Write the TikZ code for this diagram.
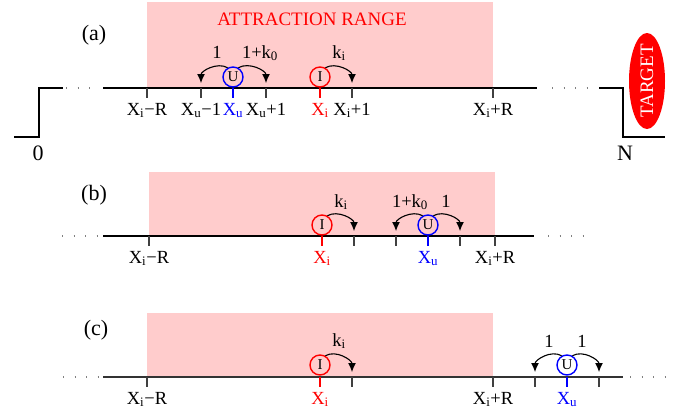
\documentclass[tikz,border=0pt]{standalone}
\usepackage{fontspec}
\setmainfont{Liberation Serif}
\usetikzlibrary{arrows.meta,shapes.geometric}
\definecolor{pinkbg}{RGB}{255,204,204}
\definecolor{myred}{RGB}{255,0,0}
\definecolor{myblue}{RGB}{0,0,255}
\begin{document}
\begin{tikzpicture}[x=1pt,y=-1pt,
  axis/.style={line width=1.3pt, black},
  dots/.style={line width=1.2pt, gray, dash pattern=on 1pt off 10.5pt},
  tickmk/.style={line width=1.1pt, black!75},
  ctick/.style={line width=2.6pt},
  lbl/.style={font=\fontsize{18.5}{18.5}\selectfont, anchor=base, inner sep=0pt},
  big/.style={font=\fontsize{22}{22}\selectfont, anchor=base, inner sep=0pt},
  site/.style={circle, draw, line width=1.4pt, minimum size=20pt, inner sep=0pt, font=\fontsize{15}{15}\selectfont},
  hop/.style={-{Latex[length=9pt,width=8pt]}, line width=1.1pt},
  rng/.style={fill=pinkbg, draw=none}]
\useasboundingbox (0,0) rectangle (680,415);

% ---------------- (a)
\fill[rng] (147,2) rectangle (493,88);
\node[lbl, text=myred, font=\fontsize{19}{19}\selectfont] (title) at (312,25) {ATTRACTION RANGE};
\node[big] (pa) at (94,40) {(a)};
\draw[axis] (14,137) -- (39,137) -- (39,88) -- (63,88);
\draw[dots] (66,88) -- (100,88);
\draw[axis] (103,88) -- (537,88);
\draw[dots] (552,88) -- (590,88);
\draw[axis] (599,88) -- (623,88) -- (623,137) -- (665,137);
\draw[tickmk] (147,88) -- ++(0,10);
\draw[tickmk] (201,88) -- ++(0,10);
\draw[ctick, myblue] (233,88) -- ++(0,10);
\draw[tickmk] (266,88) -- ++(0,10);
\draw[ctick, myred] (320,88) -- ++(0,10);
\draw[tickmk] (352,88) -- ++(0,10);
\draw[tickmk] (493,88) -- ++(0,10);
\node[site, draw=myblue] (Ua) at (233,77) {U};
\node[site, draw=myred] (Ia) at (320,77) {I};
\coordinate (a1) at (201,83);
\coordinate (a2) at (266,83);
\coordinate (a3) at (352,83);
\draw[hop] (Ua.120) to[out=150,in=90] (a1);
\draw[hop] (Ua.60) to[out=30,in=90] (a2);
\draw[hop] (Ia.60) to[out=30,in=90] (a3);
\node[lbl] (la1) at (217,58) {1};
\node[lbl] (la2) at (260,58) {1+k\textsubscript{0}};
\node[lbl] (la3) at (339,58) {k\textsubscript{i}};
\node[lbl] (xa1) at (147,115) {X\textsubscript{i}−R};
\node[lbl] (xa2) at (201,115) {X\textsubscript{u}−1};
\node[lbl, text=myblue] (xa3) at (233,115) {X\textsubscript{u}};
\node[lbl] (xa4) at (266,115) {X\textsubscript{u}+1};
\node[lbl, text=myred] (xa5) at (320,115) {X\textsubscript{i}};
\node[lbl] (xa6) at (352,115) {X\textsubscript{i}+1};
\node[lbl] (xa7) at (493,115) {X\textsubscript{i}+R};
\node[big] (zero) at (38,160) {0};
\node[big] (enn) at (625,160) {N};
\node[ellipse, fill=myred, rotate=90, minimum width=96pt, minimum height=36pt, inner sep=-3pt, text=white, font=\fontsize{19}{19}\selectfont] (tgt) at (647,81) {TARGET};

% ---------------- (b)
\fill[rng] (149,172) rectangle (495,236);
\node[big] (pb) at (94,200) {(b)};
\draw[dots] (62,236) -- (100,236);
\draw[axis] (103,236) -- (534,236);
\draw[dots] (548,236) -- (584,236);
\draw[tickmk] (149,236) -- ++(0,10);
\draw[ctick, myred] (322,236) -- ++(0,10);
\draw[tickmk] (354,236) -- ++(0,10);
\draw[tickmk] (396,236) -- ++(0,10);
\draw[ctick, myblue] (428,236) -- ++(0,10);
\draw[tickmk] (460,236) -- ++(0,10);
\draw[tickmk] (495,236) -- ++(0,10);
\node[site, draw=myred] (Ib) at (322,225) {I};
\node[site, draw=myblue] (Ub) at (428,225) {U};
\coordinate (b1) at (354,231);
\coordinate (b2) at (396,231);
\coordinate (b3) at (460,231);
\draw[hop] (Ib.60) to[out=30,in=90] (b1);
\draw[hop] (Ub.120) to[out=150,in=90] (b2);
\draw[hop] (Ub.60) to[out=30,in=90] (b3);
\node[lbl] (lb1) at (341,207) {k\textsubscript{i}};
\node[lbl] (lb2) at (410,207) {1+k\textsubscript{0}};
\node[lbl] (lb3) at (446,207) {1};
\node[lbl] (xb1) at (149,263) {X\textsubscript{i}−R};
\node[lbl, text=myred] (xb2) at (322,263) {X\textsubscript{i}};
\node[lbl, text=myblue] (xb3) at (428,263) {X\textsubscript{u}};
\node[lbl] (xb4) at (495,263) {X\textsubscript{i}+R};

% ---------------- (c)
\fill[rng] (147,313) rectangle (493,377);
\node[big] (pc) at (96,335) {(c)};
\draw[dots] (63,377) -- (100,377);
\draw[axis, black!80] (103,377) -- (623,377);
\draw[dots] (630,377) -- (665,377);
\draw[tickmk] (147,377) -- ++(0,10);
\draw[ctick, myred] (320,377) -- ++(0,10);
\draw[tickmk] (352,377) -- ++(0,10);
\draw[tickmk] (493,377) -- ++(0,10);
\draw[tickmk] (535,377) -- ++(0,10);
\draw[ctick, myblue] (567,377) -- ++(0,10);
\draw[tickmk] (599,377) -- ++(0,10);
\node[site, draw=myred] (Ic) at (320,365) {I};
\node[site, draw=myblue] (Uc) at (567,365) {U};
\coordinate (c1) at (352,372);
\coordinate (c2) at (535,372);
\coordinate (c3) at (599,372);
\draw[hop] (Ic.60) to[out=30,in=90] (c1);
\draw[hop] (Uc.120) to[out=150,in=90] (c2);
\draw[hop] (Uc.60) to[out=30,in=90] (c3);
\node[lbl] (lc1) at (339,346) {k\textsubscript{i}};
\node[lbl] (lc2) at (549,347) {1};
\node[lbl] (lc3) at (582,347) {1};
\node[lbl] (xc1) at (147,404) {X\textsubscript{i}−R};
\node[lbl, text=myred] (xc2) at (320,404) {X\textsubscript{i}};
\node[lbl] (xc3) at (493,404) {X\textsubscript{i}+R};
\node[lbl, text=myblue] (xc4) at (567,404) {X\textsubscript{u}};
\end{tikzpicture}
\end{document}
